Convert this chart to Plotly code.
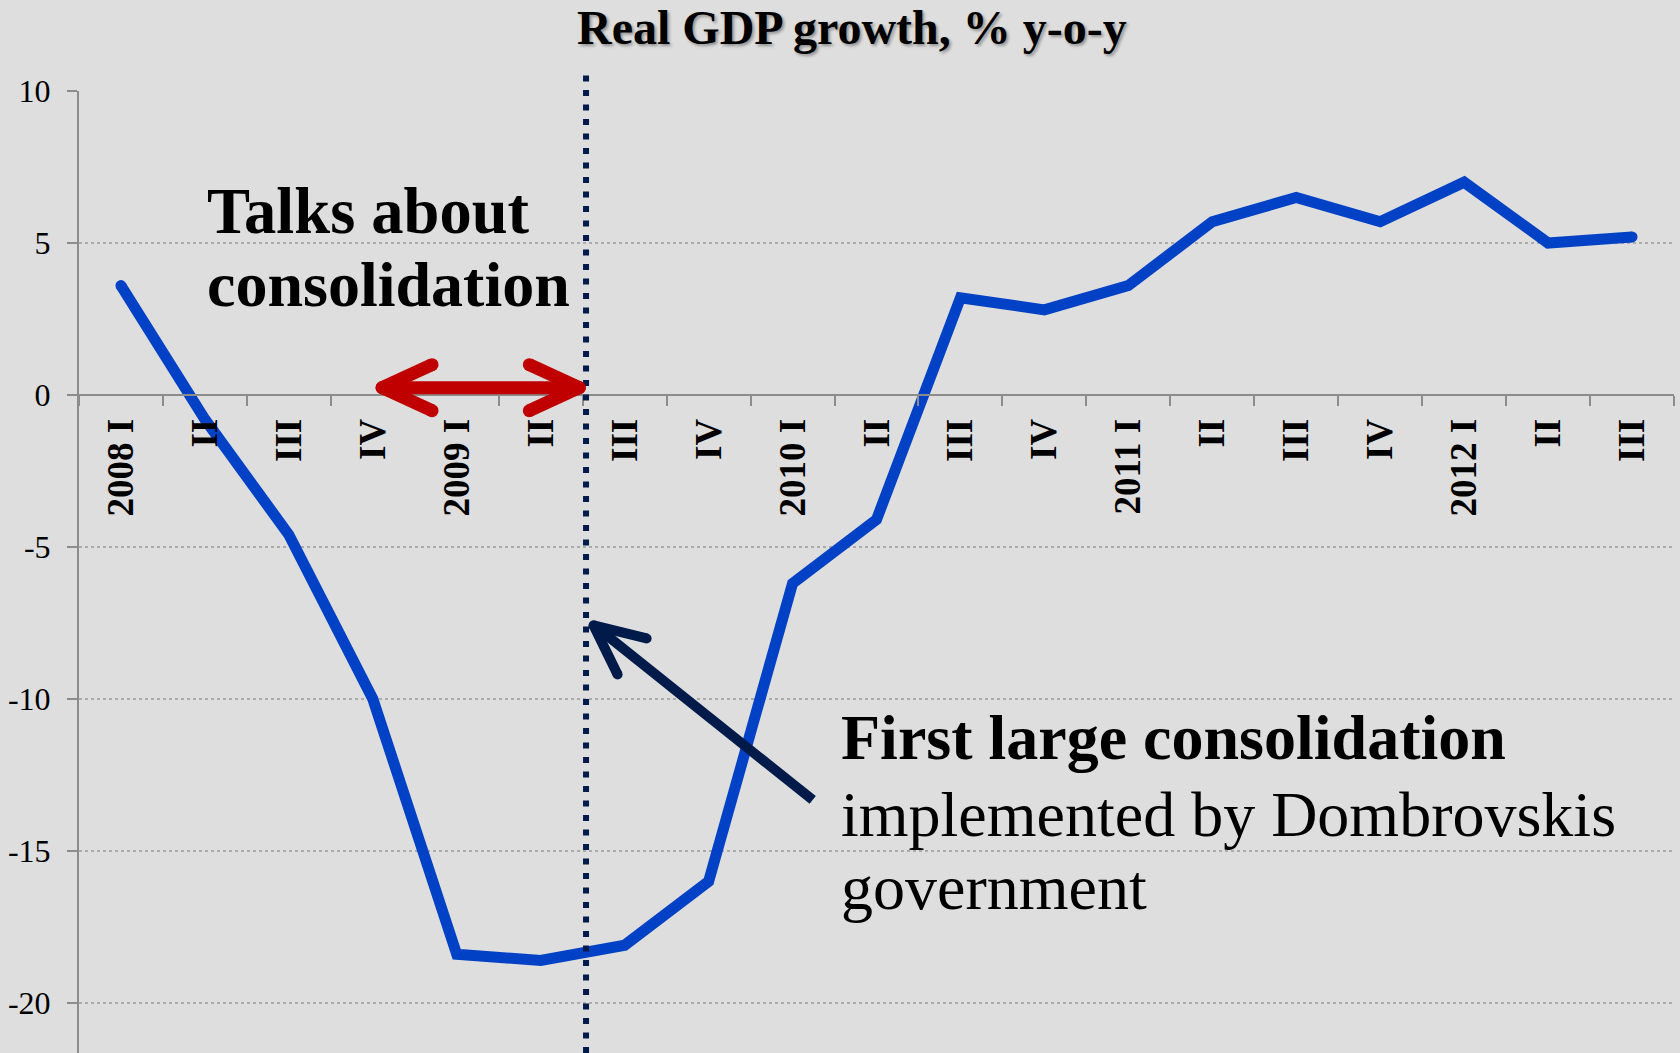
import plotly.graph_objects as go

# Quarterly real GDP growth, % y-o-y
quarters = ["2008 I", "II", "III", "IV",
            "2009 I", "II", "III", "IV",
            "2010 I", "II", "III", "IV",
            "2011 I", "II", "III", "IV",
            "2012 I", "II", "III"]
gdp_growth = [3.6, -0.8, -4.6, -10.0,
              -18.4, -18.6, -18.1, -16.0,
              -6.2, -4.1, 3.2, 2.8,
              3.6, 5.7, 6.5, 5.7,
              7.0, 5.0, 5.2]
y_ticks = [-20, -15, -10, -5, 0, 5, 10]
y_tick_text = ["-20", "-15", "-10", "-5", "0", "5", "10"]

# Canvas and plot-area geometry (pixels)
W, H = 1680, 1053
L, R, T, B = 79, 6, 91, 0
PLOT_W, PLOT_H = W - L - R, H - T - B
Y_MIN, Y_MAX = -21.645, 10
N = len(quarters)
X_PX = PLOT_W / N                  # pixels per quarter
Y_PX = PLOT_H / (Y_MAX - Y_MIN)    # pixels per percentage point


def px_x(px):
    return (px - L) / PLOT_W


def px_y(py):
    return 1 - (py - T) / PLOT_H


BG = "#dedede"
AXIS = "#8c8c8c"
BLUE = "#0041c6"
RED = "#c00000"
NAVY = "#001a4a"
SERIF = "Liberation Serif, Times New Roman, serif"
LINE_W = 11

x_idx = list(range(N))

fig = go.Figure()
fig.add_trace(go.Scatter(
    x=x_idx, y=gdp_growth, mode="lines",
    line=dict(color=BLUE, width=LINE_W),
    hoverinfo="skip", showlegend=False,
))
# rounded ends of the series line
fig.add_trace(go.Scatter(
    x=[x_idx[0], x_idx[-1]], y=[gdp_growth[0], gdp_growth[-1]],
    mode="markers",
    marker=dict(color=BLUE, size=LINE_W, line=dict(width=0)),
    hoverinfo="skip", showlegend=False,
))

zero_pos = (0 - Y_MIN) / (Y_MAX - Y_MIN)

fig.update_layout(
    width=W, height=H,
    margin=dict(l=L, r=R, t=T, b=B, autoexpand=False),
    paper_bgcolor=BG, plot_bgcolor=BG,
    showlegend=False,
    xaxis=dict(
        range=[-0.5, N - 0.5],
        anchor="free", position=zero_pos,
        tickmode="array", tickvals=x_idx, ticktext=quarters,
        tickangle=-90, ticks="",
        tickfont=dict(family=SERIF, size=37, color="black", weight="bold"),
        ticklabelstandoff=8,
        showline=True, linecolor=AXIS, linewidth=2,
        showgrid=False, zeroline=False,
        automargin=False,
        minor=dict(tickmode="array",
                   tickvals=[i - 0.5 for i in range(N + 1)],
                   ticks="outside", ticklen=10, tickwidth=2,
                   tickcolor=AXIS, showgrid=False),
    ),
    yaxis=dict(
        range=[Y_MIN, Y_MAX],
        tickmode="array", tickvals=y_ticks, ticktext=y_tick_text,
        ticks="outside", ticklen=10, tickwidth=2, tickcolor=AXIS,
        tickfont=dict(family=SERIF, size=32, color="black"),
        ticklabelstandoff=10,
        showline=True, linecolor=AXIS, linewidth=2,
        showgrid=True, gridcolor="#ababab", griddash="dot", gridwidth=1.5,
        zeroline=False, automargin=False,
    ),
)

# Vertical marker between 2009 II and 2009 III
CUT_X = 5.54
fig.add_shape(type="line", xref="x", yref="paper",
              x0=CUT_X, x1=CUT_X, y0=0, y1=px_y(74),
              line=dict(color=NAVY, width=6, dash="6px,8.5px"))


def cap(x, y, color, width):
    """Round cap at a stroke end, sized in pixels."""
    r = width / 2
    fig.add_shape(type="circle", xref="x", yref="y",
                  xsizemode="pixel", ysizemode="pixel",
                  xanchor=x, yanchor=y,
                  x0=-r, x1=r, y0=-r, y1=r,
                  fillcolor=color, line=dict(width=0))


def stroke(x0, y0, x1, y1, color, width, caps=True):
    fig.add_shape(type="line", xref="x", yref="y",
                  x0=x0, y0=y0, x1=x1, y1=y1,
                  line=dict(color=color, width=width))
    if caps:
        cap(x0, y0, color, width)
        cap(x1, y1, color, width)


def arrow_head(tip_x, tip_y, arms, color, width):
    """Open arrowhead arms from a tip in data units; arm offsets in px."""
    for dx, dy in arms:
        stroke(tip_x, tip_y, tip_x + dx / X_PX, tip_y - dy / Y_PX, color, width)


# Red double-headed arrow: talks period
talk_y = 0.24
talk_x0, talk_x1 = 3.11, 5.46
stroke(talk_x0 + 0.03, talk_y, talk_x1 - 0.03, talk_y, RED, 13, caps=False)
arrow_head(talk_x0, talk_y, [(50, -23), (50, 23)], RED, 13)
arrow_head(talk_x1, talk_y, [(-50, -23), (-50, 23)], RED, 13)

# Navy arrow pointing to the start of the consolidation
tip_x, tip_y = 5.63, -7.58
tail_x, tail_y = 8.24, -13.32
stroke(tail_x, tail_y, tip_x + 0.03, tip_y - 0.05, NAVY, 10, caps=False)
arrow_head(tip_x, tip_y, [(53, 13), (24, 49)], NAVY, 10)


def text(s, x_px, y_center_px, size, bold=False, xanchor="left", shadow=None):
    font = dict(family=SERIF, size=size, color="black",
                weight="bold" if bold else "normal")
    if shadow:
        font["shadow"] = shadow
    fig.add_annotation(text=s, xref="paper", yref="paper",
                       x=px_x(x_px), y=px_y(y_center_px),
                       xanchor=xanchor, yanchor="middle",
                       showarrow=False, font=font)


text("Real GDP growth, % y-o-y", 851.5, 28, 48, bold=True, xanchor="center",
     shadow="2px 2px 3px rgba(0,0,0,0.35)")
text("Talks about", 205, 211, 64.5, bold=True)
text("consolidation", 205, 285, 64, bold=True)
text("First large consolidation", 839, 737, 64, bold=True)
text("implemented by Dombrovskis", 839, 814, 64)
text("government", 839, 887, 64)

fig.write_html("out.html")
